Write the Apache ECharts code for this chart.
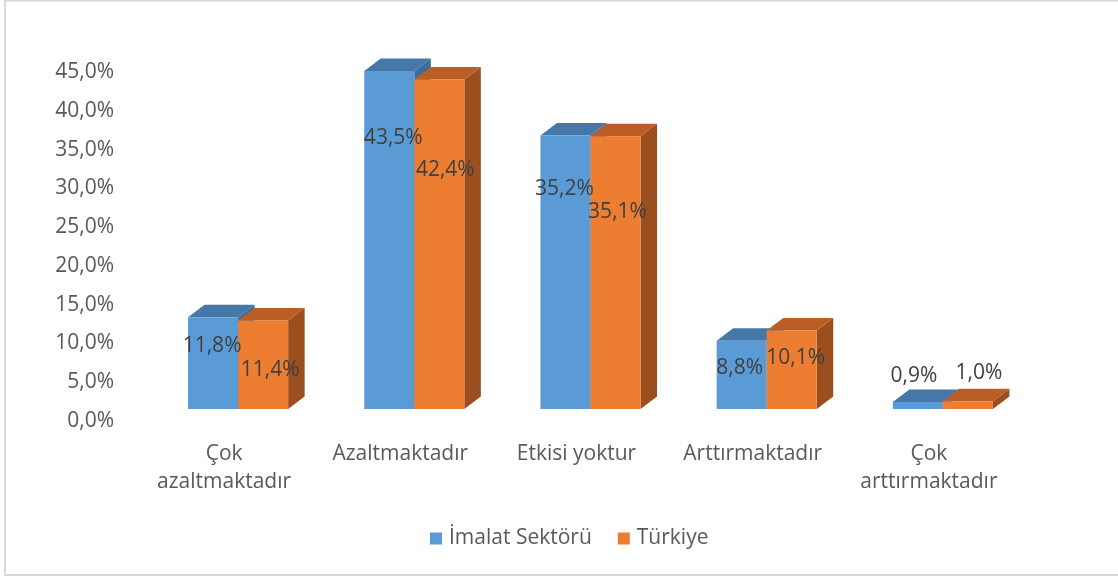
<!DOCTYPE html>
<html><head><meta charset="utf-8">
<script src="https://cdn.jsdelivr.net/npm/echarts@6/dist/echarts.min.js"></script>
<style>html,body{margin:0;padding:0;background:#fff}#c{width:1118px;height:579px}</style>
</head><body><div id="c"></div>
<script>
// ---- data ----
const categories = ['Çok\nazaltmaktadır', 'Azaltmaktadır', 'Etkisi yoktur', 'Arttırmaktadır', 'Çok\narttırmaktadır'];
const seriesNames = ['İmalat Sektörü', 'Türkiye'];
const imalat = [11.8, 43.5, 35.2, 8.8, 0.9];
const turkiye = [11.4, 42.4, 35.1, 10.1, 1.0];
const yMin = 0, yMax = 45, yStep = 5;

// ---- style ----
const FONT = '"Open Sans", sans-serif';
const FS = 21;
const BAR_RATIO = 0.284;
const DEPTH_X = 16.5, DEPTH_Y = -12.5;
const palette = [
  { front: '#5B9BD5', top: '#4677A9', side: '#3E6C99' },
  { front: '#ED7D31', top: '#BA5E26', side: '#9B4F1E' }
];
// label offsets (px) relative to the front-top centre of each bar
const labelOffsets = [
  [[-1, 29], [4, 67], [-1, 53], [-2, 27], [-4, -26]],
  [[7, 50], [6, 90], [2, 76], [4, 27], [11, -28]]
];
const fmt = v => v.toFixed(1).replace('.', ',') + '%';

function geom(si, params, api) {
  const idx = api.value(0), v = api.value(1);
  const base = api.coord([idx, 0]);
  const tp = api.coord([idx, v]);
  const w = api.size([1, 0])[0] * BAR_RATIO;
  const x0 = base[0] + (si === 0 ? -w : 0);
  return { idx, v, x0, x1: x0 + w, yb: base[1], yt: tp[1] };
}
function barRender(si) {
  const c = palette[si];
  return function (params, api) {
    const g = geom(si, params, api);
    const dx = DEPTH_X, dy = DEPTH_Y;
    return { type: 'group', children: [
      { type: 'polygon', shape: { points: [[g.x1, g.yb], [g.x1 + dx, g.yb + dy], [g.x1 + dx, g.yt + dy], [g.x1, g.yt]] }, style: { fill: c.side } },
      { type: 'polygon', shape: { points: [[g.x0, g.yt], [g.x0 + dx, g.yt + dy], [g.x1 + dx, g.yt + dy], [g.x1, g.yt]] }, style: { fill: c.top } },
      { type: 'rect', shape: { x: g.x0, y: g.yt, width: g.x1 - g.x0, height: g.yb - g.yt }, style: { fill: c.front } }
    ]};
  };
}
function labelRender(si) {
  return function (params, api) {
    const g = geom(si, params, api);
    const off = labelOffsets[si][g.idx];
    return { type: 'text', style: { text: fmt(g.v), x: (g.x0 + g.x1) / 2 + off[0], y: g.yt + off[1],
      align: 'center', verticalAlign: 'middle', font: FS + 'px ' + FONT, fill: '#404040' } };
  };
}
const values = [imalat, turkiye];
const series = [];
values.forEach((arr, si) => {
  series.push({ type: 'custom', name: seriesNames[si], xAxisIndex: 0, yAxisIndex: 0, z: 2,
    itemStyle: { color: palette[si].front }, renderItem: barRender(si),
    data: arr.map((v, i) => [i, v]) });
});
values.forEach((arr, si) => {
  series.push({ type: 'custom', name: seriesNames[si], xAxisIndex: 0, yAxisIndex: 0, z: 5,
    itemStyle: { color: palette[si].front }, renderItem: labelRender(si),
    data: arr.map((v, i) => [i, v]) });
});

const chart = echarts.init(document.getElementById('c'), null, { renderer: 'canvas' });
chart.setOption({
  animation: false,
  backgroundColor: '#fff',
  textStyle: { fontFamily: FONT },
  graphic: [{ type: 'rect', silent: true, z: -1,
    shape: { x: 5, y: 0.5, width: 1200, height: 574.5 },
    style: { fill: 'none', stroke: '#D9D9D9', lineWidth: 2 } }],
  legend: { data: seriesNames, bottom: 25, left: 425, itemWidth: 12, itemHeight: 12, itemGap: 26,
    icon: 'rect', textStyle: { fontSize: FS, color: '#595959', fontFamily: FONT, padding: [0, 0, 0, 2] } },
  grid: [
    { left: 150, right: 87, top: 59.4, bottom: 170 },
    { left: 136, right: 101, top: 72, bottom: 158 }
  ],
  xAxis: [
    { type: 'category', gridIndex: 0, data: categories, show: false },
    { type: 'category', gridIndex: 1, data: categories,
      axisLine: { show: false }, axisTick: { show: false },
      axisLabel: { interval: 0, margin: 19, fontSize: FS, lineHeight: 28, color: '#595959', fontFamily: FONT } }
  ],
  yAxis: [
    { type: 'value', gridIndex: 0, min: yMin, max: yMax, interval: yStep, show: false },
    { type: 'value', gridIndex: 1, min: yMin, max: yMax, interval: yStep,
      axisLine: { show: false }, axisTick: { show: false }, splitLine: { show: false },
      axisLabel: { margin: 22, fontSize: FS, color: '#595959', fontFamily: FONT, formatter: v => fmt(v) } }
  ],
  series
});
</script></body></html>
